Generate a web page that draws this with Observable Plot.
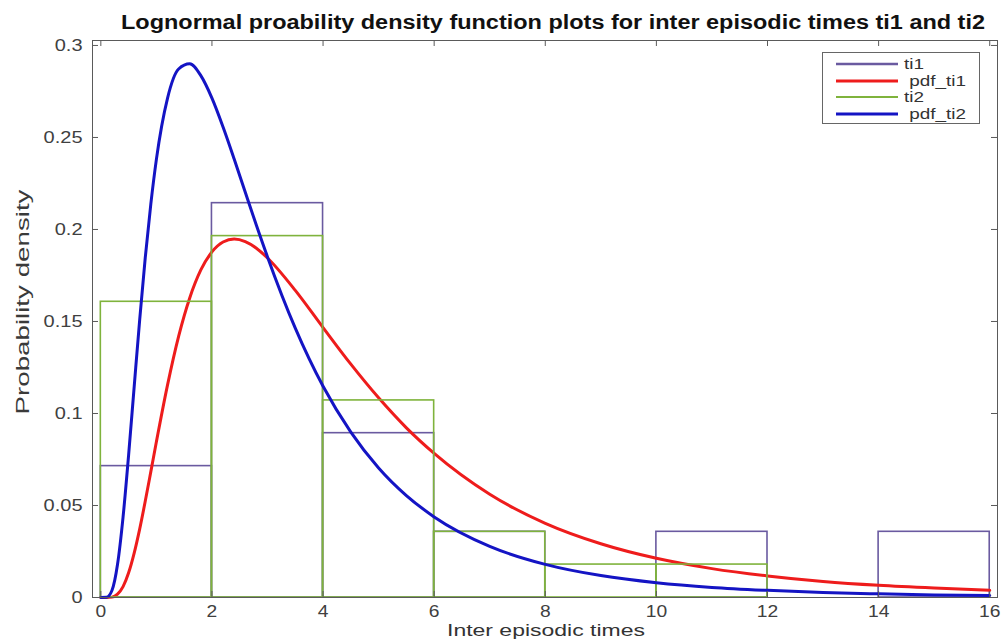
<!DOCTYPE html>
<html><head><meta charset="utf-8">
<script src="https://cdn.jsdelivr.net/npm/d3@7"></script>
<script src="https://cdn.jsdelivr.net/npm/@observablehq/plot@0.6"></script>
<style>body{margin:0;background:#fff;} svg{display:block}</style>
</head><body><div id="chart"></div>
<script>
const title = "Lognormal proability density function plots for inter episodic times ti1 and ti2";
const xLabel = "Inter episodic times";
const yLabel = "Probability density";
const binEdges = [0, 2, 4, 6, 8, 10, 12, 14, 16];
const ti1 = [0.0714, 0.2143, 0.0893, 0.0357, 0, 0.0357, 0, 0.0357];
const ti2 = [0.1607, 0.1964, 0.1071, 0.0357, 0.0179, 0.0179, 0, 0];
const pdfX = [0,0.1,0.2,0.3,0.4,0.5,0.6,0.7,0.8,0.9,1,1.2,1.4,1.6,1.8,2,2.2,2.4,2.6,2.8,3,3.5,4,4.5,5,5.5,6,7,8,9,10,11,12,13,14,15,16];
const pdfTi1 = [0,0,0.0002,0.0018,0.0059,0.0134,0.0241,0.0373,0.0524,0.0684,0.0846,0.1154,0.1419,0.1628,0.1780,0.1878,0.1932,0.1948,0.1934,0.1898,0.1845,0.1669,0.1467,0.1268,0.1085,0.0922,0.0783,0.0561,0.0403,0.0292,0.0213,0.0157,0.0117,0.0087,0.0066,0.0051,0.0039];
const pdfTi2 = [0,0.0001,0.0038,0.0179,0.0437,0.0774,0.1145,0.1512,0.1848,0.2139,0.2381,0.2713,0.2872,0.2900,0.2836,0.2714,0.2557,0.2383,0.2202,0.2023,0.1851,0.1464,0.1148,0.0899,0.0704,0.0554,0.0438,0.0278,0.0180,0.0119,0.0080,0.0055,0.0039,0.0027,0.0020,0.0014,0.0011];
const xTicks = [0, 2, 4, 6, 8, 10, 12, 14, 16];
const yTicks = [0, 0.05, 0.1, 0.15, 0.2, 0.25, 0.3];
const yTickLabels = ["0", "0.05", "0.1", "0.15", "0.2", "0.25", "0.3"];
const legendLabels = ["ti1", " pdf_ti1", "ti2", " pdf_ti2"];

const C = {ti1: "#6a5aa0", pdf1: "#ee1c1c", ti2: "#7fb33c", pdf2: "#1414c4", axis: "#5a5a5a"};
const FONT = "'Liberation Sans', Arial, Helvetica, sans-serif";

const bins1 = ti1.map((v, i) => ({x1: binEdges[i], x2: binEdges[i + 1], v}));
const bins2 = ti2.map((v, i) => ({x1: binEdges[i], x2: binEdges[i + 1], v}));
const curve1 = pdfX.map((x, i) => ({x, y: pdfTi1[i]}));
const curve2 = pdfX.map((x, i) => ({x, y: pdfTi2[i]}));

const W = 1001, H = 639, mL = 92, mR = 4, mT = 40, mB = 42;
const X0 = -0.15, X1 = 16.14, Y1 = 0.3027;
const kx = (X1 - X0) / (W - mL - mR), ky = Y1 / (H - mT - mB);
const tk = 6;

const plot = Plot.plot({
  width: W, height: H, marginLeft: mL, marginRight: mR, marginTop: mT, marginBottom: mB,
  style: {fontFamily: FONT, fontSize: "16px", color: "#404040", background: "#fff"},
  x: {domain: [X0, X1]},
  y: {domain: [0, Y1]},
  marks: [
    Plot.rect(bins1.filter(d => d.v > 0), {x1: "x1", x2: "x2", y1: 0, y2: "v", fill: "none", stroke: C.ti1, strokeWidth: 1.6}),
    Plot.line(curve1, {x: "x", y: "y", stroke: C.pdf1, strokeWidth: 3, curve: "monotone-x"}),
    Plot.rect(bins2.filter(d => d.v > 0), {x1: "x1", x2: "x2", y1: 0, y2: "v", fill: "none", stroke: C.ti2, strokeWidth: 1.6}),
    Plot.line(curve2, {x: "x", y: "y", stroke: C.pdf2, strokeWidth: 3, curve: "monotone-x"}),
    Plot.frame({stroke: C.axis, strokeWidth: 1}),
    Plot.ruleX(xTicks, {x: d => d, y1: 0, y2: tk * ky, stroke: C.axis}),
    Plot.ruleX(xTicks, {x: d => d, y1: Y1 - tk * ky, y2: Y1, stroke: C.axis}),
    Plot.ruleY(yTicks, {y: d => d, x1: X0, x2: X0 + tk * kx, stroke: C.axis}),
    Plot.ruleY(yTicks, {y: d => d, x1: X1 - tk * kx, x2: X1, stroke: C.axis}),
    Plot.axisX(xTicks, {tickSize: 0, tickPadding: 8, tickFormat: d => String(d), label: null, fontSize: 16, fill: "#404040"}),
    Plot.axisY(yTicks, {tickSize: 0, tickPadding: 10, tickFormat: d => yTickLabels[yTicks.indexOf(d)], label: null, fontSize: 16, fill: "#404040"})
  ]
});
document.getElementById("chart").append(plot);

const svg = d3.select(plot);
function stretch(sel, f) {
  sel.each(function () {
    const len = this.getComputedTextLength();
    if (len > 0) this.setAttribute("textLength", (len * f).toFixed(1)), this.setAttribute("lengthAdjust", "spacingAndGlyphs");
  });
}
function stretchTo(sel, w) {
  sel.attr("textLength", w).attr("lengthAdjust", "spacingAndGlyphs");
}
stretch(svg.selectAll('g[aria-label="x-axis tick label"] text'), 1.2);
stretch(svg.selectAll('g[aria-label="y-axis tick label"] text'), 1.25);

// title and axis labels
const t = svg.append("text").attr("x", 553).attr("y", 29).attr("text-anchor", "middle")
  .attr("font-family", FONT).attr("font-weight", "bold").attr("font-size", 20).attr("fill", "#111").text(title);
stretchTo(t, 864);
const xl = svg.append("text").attr("x", 546).attr("y", 636).attr("text-anchor", "middle")
  .attr("font-family", FONT).attr("font-size", 17).attr("fill", "#333").text(xLabel);
stretchTo(xl, 198);
const yl = svg.append("text").attr("transform", "translate(29,302) rotate(-90)").attr("text-anchor", "middle")
  .attr("font-family", FONT).attr("font-size", 19).attr("fill", "#3a3a3a").text(yLabel);
stretchTo(yl, 225);

// legend
const lg = svg.append("g").attr("font-family", FONT).attr("font-size", 14).attr("fill", "#333").attr("text-anchor", "start");
lg.append("rect").attr("x", 822.5).attr("y", 52.5).attr("width", 157).attr("height", 71).attr("fill", "#fff").attr("stroke", "#666");
const lgColors = [C.ti1, C.pdf1, C.ti2, C.pdf2];
const lgWidths = [2.5, 3, 2, 3];
const lgY = [64, 81, 97, 114];
legendLabels.forEach((s, i) => {
  lg.append("line").attr("x1", 836).attr("x2", 898).attr("y1", lgY[i]).attr("y2", lgY[i]).attr("stroke", lgColors[i]).attr("stroke-width", lgWidths[i]);
  const tx = lg.append("text").attr("x", 904).attr("y", lgY[i]).attr("dy", "0.35em").attr("text-anchor", "start").style("white-space", "pre").text(s);
  stretch(tx, 1.35);
});
</script>
</body></html>
